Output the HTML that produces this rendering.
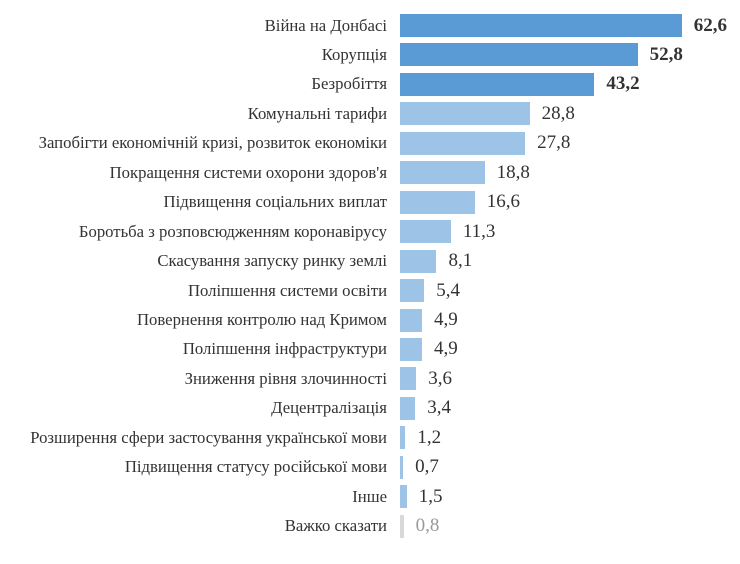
<!DOCTYPE html>
<html><head><meta charset="utf-8"><style>
body{margin:0;background:#fff;width:740px;height:564px;overflow:hidden;position:relative;font-family:"Liberation Serif",serif;}
.l{position:absolute;right:353px;font-size:16.7px;color:#333;white-space:nowrap;line-height:20px}
.b{position:absolute;left:400px;height:23px}
.v{position:absolute;font-size:19px;color:#333;line-height:22px}
</style></head><body>
<script>
const d=[["Війна на Донбасі",62.6,1],["Корупція",52.8,1],["Безробіття",43.2,1],["Комунальні тарифи",28.8,0],["Запобігти економічній кризі, розвиток економіки",27.8,0],["Покращення системи охорони здоров'я",18.8,0],["Підвищення соціальних виплат",16.6,0],["Боротьба з розповсюдженням коронавірусу",11.3,0],["Скасування запуску ринку землі",8.1,0],["Поліпшення системи освіти",5.4,0],["Повернення контролю над Кримом",4.9,0],["Поліпшення інфраструктури",4.9,0],["Зниження рівня злочинності",3.6,0],["Децентралізація",3.4,0],["Розширення сфери застосування української мови",1.2,0],["Підвищення статусу російської мови",0.7,0],["Інше",1.5,0],["Важко сказати",0.8,2]];
let h="";d.forEach((r,i)=>{const c=25.5+i*29.45;const w=Math.max(3,r[1]*4.5);
const col=r[2]==1?"#5b9bd5":r[2]==2?"#d9d9d9":"#9dc3e6";
h+=`<div class="l" style="top:${c-10}px">${r[0]}</div><div class="b" style="top:${c-11.5}px;width:${w}px;background:${col}"></div><div class="v" style="top:${c-11}px;left:${400+w+12}px;${r[2]==1?'font-weight:bold;':''}${r[2]==2?'color:#999;':''}">${String(r[1]).replace('.',',')}</div>`;});
document.write(h);
</script>
</body></html>
